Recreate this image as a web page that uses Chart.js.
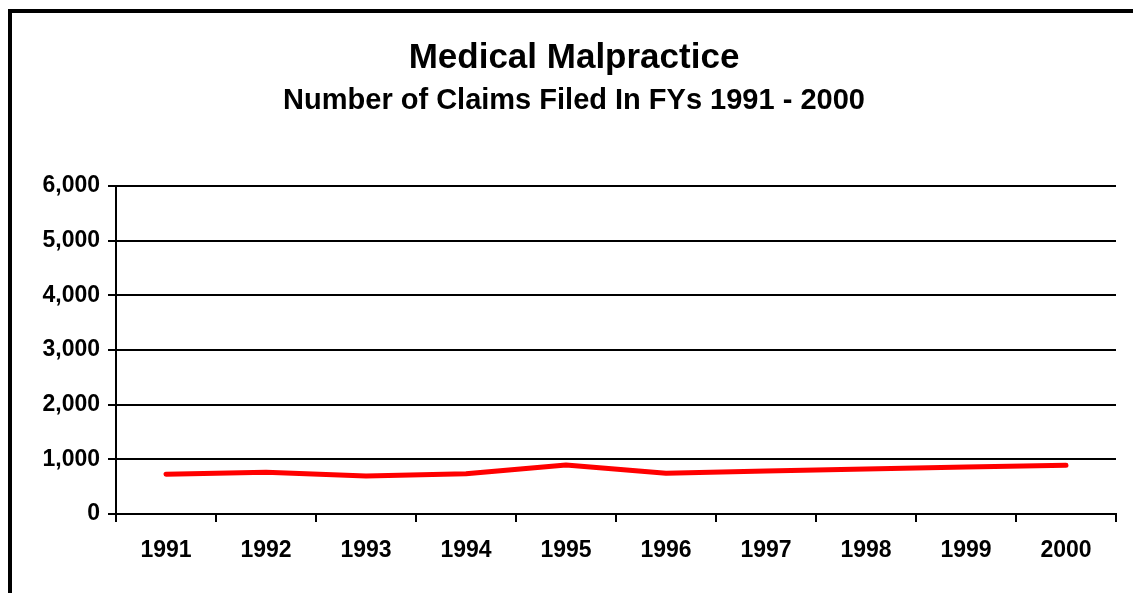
<!DOCTYPE html>
<html>
<head>
<meta charset="utf-8">
<script src="https://cdn.jsdelivr.net/npm/chart.js@4"></script>
<style>
  html, body { margin: 0; padding: 0; background: #fff; }
  #wrap { width: 1133px; height: 593px; position: relative; }
</style>
</head>
<body>
<div id="wrap"><canvas id="claimsChart" width="1133" height="593"></canvas></div>
<script>
// data
const years = ['1991', '1992', '1993', '1994', '1995', '1996', '1997', '1998', '1999', '2000'];
const claims = [726, 762, 695, 737, 896, 744, 786, 823, 860, 890];
const yTicks = [0, 1000, 2000, 3000, 4000, 5000, 6000];

const FONT = 'Arial, "Liberation Sans", sans-serif';

// thick frame round the whole chart, cut off at right and bottom
const framePlugin = {
  id: 'frame',
  beforeDraw(chart) {
    const ctx = chart.ctx;
    ctx.save();
    ctx.fillStyle = '#fff';
    ctx.fillRect(0, 0, chart.width, chart.height);
    ctx.strokeStyle = '#000';
    ctx.lineWidth = 4;
    ctx.strokeRect(10, 11, 1300, 800);
    ctx.restore();
  }
};

new Chart(document.getElementById('claimsChart'), {
  type: 'line',
  data: {
    labels: years,
    datasets: [{
      label: 'Claims',
      data: claims,
      borderColor: '#ff0000',
      borderWidth: 5,
      borderCapStyle: 'round',
      borderJoinStyle: 'round',
      pointRadius: 0,
      tension: 0,
      fill: false
    }]
  },
  options: {
    responsive: false,
    animation: false,
    devicePixelRatio: 1,
    layout: { padding: { left: 32, right: 17, top: 0, bottom: 0 } },
    plugins: {
      legend: { display: false },
      tooltip: { enabled: false },
      title: {
        display: true,
        text: 'Medical Malpractice',
        color: '#000',
        font: { family: FONT, size: 35, weight: 'bold' },
        padding: { top: 37, bottom: 5 }
      },
      subtitle: {
        display: true,
        text: 'Number of Claims Filed In FYs 1991 - 2000',
        color: '#000',
        font: { family: FONT, size: 29, weight: 'bold' },
        padding: { top: 0, bottom: 67 }
      }
    },
    scales: {
      x: {
        offset: true,
        grid: {
          offset: true,
          drawOnChartArea: false,
          drawTicks: true,
          tickLength: 8,
          color: '#000',
          lineWidth: 2
        },
        border: { color: '#000', width: 2 },
        ticks: {
          color: '#000',
          font: { family: FONT, size: 23, weight: 'bold' },
          padding: 15,
          maxRotation: 0
        },
        afterFit(scale) { scale.height = 79; }
      },
      y: {
        min: 0,
        max: 6000,
        afterBuildTicks(scale) { scale.ticks = yTicks.map(v => ({ value: v })); },
        grid: {
          color: '#000',
          lineWidth: 2,
          drawTicks: true,
          tickLength: 8
        },
        border: { color: '#000', width: 2 },
        ticks: {
          color: '#000',
          font: { family: FONT, size: 23, weight: 'bold' },
          padding: 8,
          callback: v => v.toLocaleString('en-US')
        },
        afterFit(scale) { scale.width = 84; }
      }
    }
  },
  plugins: [framePlugin]
});
</script>
</body>
</html>
